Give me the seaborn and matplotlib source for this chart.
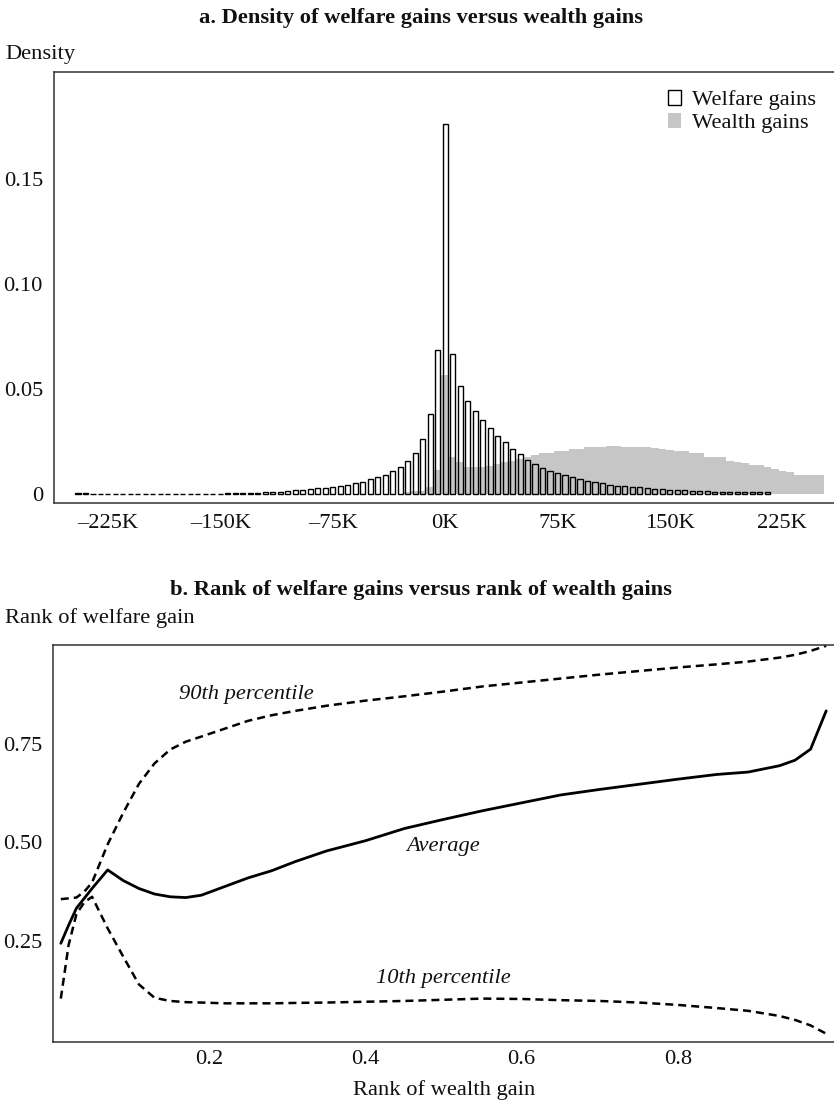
import numpy as np
import pandas as pd
import matplotlib
matplotlib.use('Agg')
import matplotlib.pyplot as plt
from matplotlib.patches import Patch
import seaborn as sns

# panel a: densities, bins of 5K centred on multiples of 5K
welfare_centers = list(range(-245, 220, 5))
welfare_density = [0.0005, 0.0005] + [0.0002] * 18 + [
    0.0006, 0.0006, 0.0006, 0.0006, 0.0006, 0.0008, 0.0011, 0.0011, 0.0014, 0.0019,
    0.0020, 0.0024, 0.0027, 0.0030, 0.0031, 0.0038, 0.0044, 0.0052, 0.0057, 0.0070,
    0.0079, 0.0090, 0.0110, 0.0130, 0.0157, 0.0197, 0.0260, 0.0380, 0.0685,
    0.1760,
    0.0668, 0.0512, 0.0445, 0.0394, 0.0352, 0.0313, 0.0275, 0.0246, 0.0214, 0.0190,
    0.0163, 0.0143, 0.0124, 0.0111, 0.0100, 0.0090, 0.0079, 0.0071, 0.0063, 0.0059,
    0.0051, 0.0044, 0.0040, 0.0037, 0.0033, 0.0032, 0.0029, 0.0024, 0.0022, 0.0019,
    0.0019, 0.0017, 0.0014, 0.0014, 0.0013] + [0.0008] * 8

wealth_centers = list(range(-25, 255, 5))
wealth_density = [
    0.0010, 0.0012, 0.0012, 0.0034, 0.0115,
    0.0567, 0.0175, 0.0150, 0.0127, 0.0127, 0.0127, 0.0135, 0.0143, 0.0150, 0.0159,
    0.0167, 0.0175, 0.0187, 0.0194, 0.0194, 0.0203, 0.0206, 0.0214, 0.0214, 0.0222,
    0.0225, 0.0225, 0.0227, 0.0227, 0.0225, 0.0225, 0.0225, 0.0222, 0.0219, 0.0214,
    0.0210, 0.0206, 0.0206, 0.0194, 0.0194, 0.0175, 0.0175, 0.0175, 0.0159, 0.0154,
    0.0146, 0.0138, 0.0138, 0.0127, 0.0119, 0.0111, 0.0103, 0.0092, 0.0092, 0.0092,
    0.0092]

# panel b: rank of welfare gain by rank of wealth gain
rank = [0.01, 0.02, 0.03, 0.04, 0.05, 0.07, 0.09, 0.11, 0.13, 0.15, 0.17, 0.19,
        0.22, 0.25, 0.28, 0.31, 0.35, 0.40, 0.45, 0.50, 0.55, 0.60, 0.65, 0.70,
        0.75, 0.80, 0.85, 0.89, 0.93, 0.95, 0.97, 0.99]
avg = [0.244, 0.290, 0.333, 0.358, 0.383, 0.430, 0.403, 0.383, 0.369, 0.362,
       0.360, 0.366, 0.388, 0.410, 0.428, 0.451, 0.478, 0.504, 0.535, 0.558,
       0.580, 0.600, 0.620, 0.634, 0.647, 0.660, 0.672, 0.678, 0.694, 0.708,
       0.736, 0.833]
p90 = [0.356, 0.358, 0.360, 0.375, 0.398, 0.495, 0.575, 0.648, 0.700, 0.735,
       0.755, 0.768, 0.788, 0.808, 0.822, 0.833, 0.846, 0.859, 0.870, 0.882,
       0.895, 0.905, 0.915, 0.925, 0.934, 0.943, 0.951, 0.958, 0.968, 0.975,
       0.985, 0.998]
p10 = [0.104, 0.240, 0.318, 0.348, 0.362, 0.282, 0.210, 0.140, 0.106, 0.098,
       0.095, 0.094, 0.092, 0.092, 0.092, 0.093, 0.094, 0.096, 0.098, 0.101,
       0.104, 0.103, 0.100, 0.098, 0.094, 0.088, 0.080, 0.073, 0.060, 0.050,
       0.036, 0.015]

sns.set_style('white')
plt.rcParams['font.family'] = ['Liberation Serif', 'DejaVu Serif']
fs = 16.2
plt.rcParams['font.size'] = fs
plt.rcParams['text.color'] = '#111111'

W, H = 834, 1105
fig = plt.figure(figsize=(W / 100, H / 100), dpi=100)
spine_col = '#333333'
gray = '#c6c6c6'


def ax_at(l, t, r, b):
    return fig.add_axes([l / W, 1 - b / H, (r - l) / W, (b - t) / H])


# ---- panel a
ax1 = ax_at(54, 72, 834, 503)
wl = pd.DataFrame({'x': wealth_centers, 'd': wealth_density})
wf = pd.DataFrame({'x': welfare_centers, 'd': welfare_density})
sns.histplot(data=wl, x='x', weights='d', bins=len(wealth_centers),
             binrange=(wealth_centers[0] - 2.5, wealth_centers[-1] + 2.5), stat='count',
             color=gray, alpha=1, edgecolor='none', linewidth=0, ax=ax1)
sns.histplot(data=wf, x='x', weights='d', bins=len(welfare_centers),
             binrange=(welfare_centers[0] - 2.5, welfare_centers[-1] + 2.5), stat='count',
             fill=False, shrink=0.68, color='black', linewidth=1.0, ax=ax1)
ax1.set_xlim(-261, 259.5)
ax1.set_ylim(-0.0043, 0.201)
ax1.set_xticks([-225, -150, -75, 0, 75, 150, 225])
ax1.set_xticklabels([f'{v}K'.replace('-', '\u2013') for v in [-225, -150, -75, 0, 75, 150, 225]])
ax1.set_yticks([0, 0.05, 0.10, 0.15])
ax1.set_yticklabels(['0', '0.05', '0.10', '0.15'])
ax1.set_xlabel('')
ax1.set_ylabel('')
ax1.tick_params(direction='in', length=5, width=1, color=spine_col, labelsize=fs,
                labelcolor='#111111')
ax1.tick_params(axis='y', pad=8)
ax1.tick_params(axis='x', pad=8)
handles = [Patch(facecolor='white', edgecolor='black', linewidth=1, label='Welfare gains'),
           Patch(facecolor=gray, edgecolor='none', label='Wealth gains')]
ax1.legend(handles=handles, loc='upper right', frameon=False, fontsize=fs,
           handlelength=0.56, handleheight=0.62, handletextpad=0.5,
           labelspacing=0.12, borderpad=0, borderaxespad=0,
           bbox_to_anchor=(0.977, 0.958))

# ---- panel b
ax2 = ax_at(53, 645, 834, 1042)
df = pd.DataFrame({'rank': rank, 'avg': avg, 'p90': p90, 'p10': p10})
dash = (0, (3.2, 2.0))
sns.lineplot(data=df, x='rank', y='p90', ax=ax2, color='black', linewidth=1.8, linestyle=dash)
sns.lineplot(data=df, x='rank', y='p10', ax=ax2, color='black', linewidth=1.8, linestyle=dash)
sns.lineplot(data=df, x='rank', y='avg', ax=ax2, color='black', linewidth=2.0)
ax2.set_xlim(0, 1)
ax2.set_ylim(-0.006, 1.0)
ax2.set_xticks([0.2, 0.4, 0.6, 0.8])
ax2.set_xticklabels(['0.2', '0.4', '0.6', '0.8'])
ax2.set_yticks([0.25, 0.50, 0.75])
ax2.set_yticklabels(['0.25', '0.50', '0.75'])
ax2.set_xlabel('')
ax2.set_ylabel('')
ax2.tick_params(direction='in', length=5, width=1, color=spine_col, labelsize=fs,
                labelcolor='#111111')
ax2.tick_params(axis='y', pad=8)
ax2.tick_params(axis='x', pad=5.5)
ax2.text(0.247, 0.875, '90th percentile', style='italic', fontsize=fs, ha='center', va='center')
ax2.text(0.50, 0.49, 'Average', style='italic', fontsize=fs, ha='center', va='center')
ax2.text(0.50, 0.156, '10th percentile', style='italic', fontsize=fs, ha='center', va='center')

for ax in (ax1, ax2):
    for s in ax.spines.values():
        s.set_color(spine_col)
        s.set_linewidth(1.1)
    ax.spines['right'].set_visible(False)

fig.text(421 / W, 1 - 18 / H, 'a. Density of welfare gains versus wealth gains',
         fontsize=fs, fontweight='bold', ha='center', va='center')
fig.text(5 / W, 1 - 55 / H, 'Density', fontsize=fs, ha='left', va='center')
fig.text(421 / W, 1 - 590 / H, 'b. Rank of welfare gains versus rank of wealth gains',
         fontsize=fs, fontweight='bold', ha='center', va='center')
fig.text(5 / W, 1 - 618 / H, 'Rank of welfare gain', fontsize=fs, ha='left', va='center')
fig.text(444 / W, 1 - 1090 / H, 'Rank of wealth gain', fontsize=fs, ha='center', va='center')

fig.savefig('out.png', dpi=100)
